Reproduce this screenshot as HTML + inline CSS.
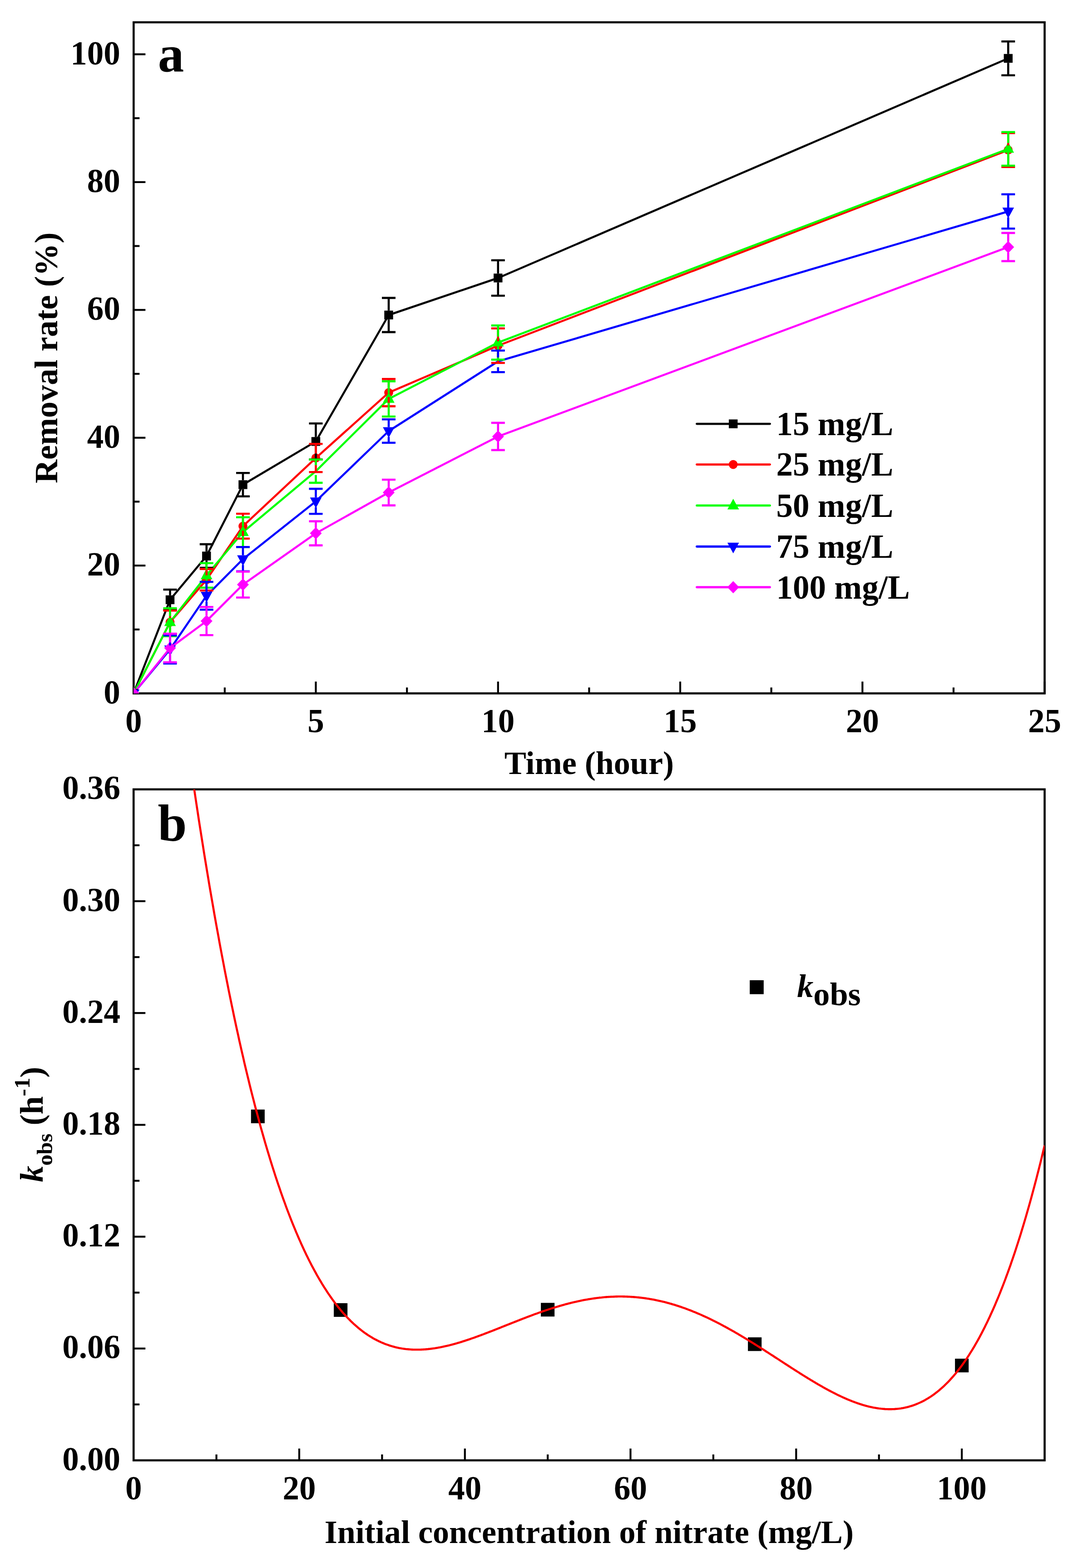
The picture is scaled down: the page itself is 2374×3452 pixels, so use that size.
<!DOCTYPE html>
<html><head><meta charset="utf-8"><title>Figure</title>
<style>html,body{margin:0;padding:0;background:#fff}svg{display:block}</style>
</head><body>
<svg width="2374" height="3452" viewBox="0 0 2374 3452">
<defs>
<clipPath id="ca"><rect x="294.3" y="49.1" width="2006.2" height="1477.4"/></clipPath>
<clipPath id="cb"><rect x="294.2" y="1737.8" width="2006.3" height="1477.2"/></clipPath>
</defs>
<rect width="2374" height="3452" fill="#fff"/>
<g font-family="&quot;Liberation Serif&quot;, serif" font-weight="bold" fill="#000">
<line x1="294.3" y1="1245.1" x2="320.3" y2="1245.1" stroke="#000" stroke-width="4.2"/>
<line x1="294.3" y1="963.7" x2="320.3" y2="963.7" stroke="#000" stroke-width="4.2"/>
<line x1="294.3" y1="682.3" x2="320.3" y2="682.3" stroke="#000" stroke-width="4.2"/>
<line x1="294.3" y1="400.9" x2="320.3" y2="400.9" stroke="#000" stroke-width="4.2"/>
<line x1="294.3" y1="119.5" x2="320.3" y2="119.5" stroke="#000" stroke-width="4.2"/>
<line x1="294.3" y1="1385.8" x2="307.3" y2="1385.8" stroke="#000" stroke-width="4.2"/>
<line x1="294.3" y1="1104.4" x2="307.3" y2="1104.4" stroke="#000" stroke-width="4.2"/>
<line x1="294.3" y1="823.0" x2="307.3" y2="823.0" stroke="#000" stroke-width="4.2"/>
<line x1="294.3" y1="541.6" x2="307.3" y2="541.6" stroke="#000" stroke-width="4.2"/>
<line x1="294.3" y1="260.2" x2="307.3" y2="260.2" stroke="#000" stroke-width="4.2"/>
<line x1="695.5" y1="1526.5" x2="695.5" y2="1500.5" stroke="#000" stroke-width="4.2"/>
<line x1="1096.8" y1="1526.5" x2="1096.8" y2="1500.5" stroke="#000" stroke-width="4.2"/>
<line x1="1498.0" y1="1526.5" x2="1498.0" y2="1500.5" stroke="#000" stroke-width="4.2"/>
<line x1="1899.3" y1="1526.5" x2="1899.3" y2="1500.5" stroke="#000" stroke-width="4.2"/>
<line x1="2300.5" y1="1526.5" x2="2300.5" y2="1500.5" stroke="#000" stroke-width="4.2"/>
<line x1="494.9" y1="1526.5" x2="494.9" y2="1513.5" stroke="#000" stroke-width="4.2"/>
<line x1="896.2" y1="1526.5" x2="896.2" y2="1513.5" stroke="#000" stroke-width="4.2"/>
<line x1="1297.4" y1="1526.5" x2="1297.4" y2="1513.5" stroke="#000" stroke-width="4.2"/>
<line x1="1698.6" y1="1526.5" x2="1698.6" y2="1513.5" stroke="#000" stroke-width="4.2"/>
<line x1="2099.9" y1="1526.5" x2="2099.9" y2="1513.5" stroke="#000" stroke-width="4.2"/>
<rect x="294.3" y="49.1" width="2006.2" height="1477.4" fill="none" stroke="#000" stroke-width="4.6"/>
<text x="264.8" y="1548.5" font-size="73" text-anchor="end">0</text>
<text x="264.8" y="1267.1" font-size="73" text-anchor="end">20</text>
<text x="264.8" y="985.7" font-size="73" text-anchor="end">40</text>
<text x="264.8" y="704.3" font-size="73" text-anchor="end">60</text>
<text x="264.8" y="422.9" font-size="73" text-anchor="end">80</text>
<text x="264.8" y="141.5" font-size="73" text-anchor="end">100</text>
<text x="294.3" y="1611.5" font-size="73" text-anchor="middle">0</text>
<text x="695.5" y="1611.5" font-size="73" text-anchor="middle">5</text>
<text x="1096.8" y="1611.5" font-size="73" text-anchor="middle">10</text>
<text x="1498.0" y="1611.5" font-size="73" text-anchor="middle">15</text>
<text x="1899.3" y="1611.5" font-size="73" text-anchor="middle">20</text>
<text x="2300.5" y="1611.5" font-size="73" text-anchor="middle">25</text>
<text x="1297.4" y="1704.3" font-size="72.1" text-anchor="middle">Time (hour)</text>
<text transform="translate(125.8 787.8) rotate(-90)" font-size="72.1" text-anchor="middle">Removal rate (%)</text>
<text x="347.8" y="156.6" font-size="115">a</text>
<g clip-path="url(#ca)">
<polyline points="294.3,1526.5 374.5,1320.4 454.8,1224.1 535.0,1067.0 695.5,971.9 856.0,693.5 1096.8,612.0 2220.3,128.5" fill="none" stroke="#000000" stroke-width="4.5" stroke-linejoin="round" stroke-linecap="round"/>
<polyline points="294.3,1526.5 374.5,1369.7 454.8,1276.3 535.0,1158.4 695.5,1008.3 856.0,864.4 1096.8,761.0 2220.3,330.3" fill="none" stroke="#ff0000" stroke-width="4.5" stroke-linejoin="round" stroke-linecap="round"/>
<polyline points="294.3,1526.5 374.5,1369.7 454.8,1266.8 535.0,1171.5 695.5,1037.3 856.0,878.2 1096.8,754.1 2220.3,327.8" fill="none" stroke="#00ff00" stroke-width="4.5" stroke-linejoin="round" stroke-linecap="round"/>
<polyline points="294.3,1526.5 374.5,1429.6 454.8,1311.6 535.0,1231.0 695.5,1103.7 856.0,949.0 1096.8,795.5 2220.3,465.5" fill="none" stroke="#0000ff" stroke-width="4.5" stroke-linejoin="round" stroke-linecap="round"/>
<polyline points="294.3,1526.5 374.5,1426.6 454.8,1367.2 535.0,1287.0 695.5,1174.1 856.0,1084.3 1096.8,960.9 2220.3,543.9" fill="none" stroke="#ff00ff" stroke-width="4.5" stroke-linejoin="round" stroke-linecap="round"/>
<rect x="284.6" y="1516.8" width="19.4" height="19.4" fill="#000000"/>
<rect x="364.8" y="1310.7" width="19.4" height="19.4" fill="#000000"/>
<rect x="445.1" y="1214.4" width="19.4" height="19.4" fill="#000000"/>
<rect x="525.3" y="1057.3" width="19.4" height="19.4" fill="#000000"/>
<rect x="685.8" y="962.2" width="19.4" height="19.4" fill="#000000"/>
<rect x="846.3" y="683.8" width="19.4" height="19.4" fill="#000000"/>
<rect x="1087.1" y="602.3" width="19.4" height="19.4" fill="#000000"/>
<rect x="2210.6" y="118.8" width="19.4" height="19.4" fill="#000000"/>
<circle cx="294.3" cy="1526.5" r="9.8" fill="#ff0000"/>
<circle cx="374.5" cy="1369.7" r="9.8" fill="#ff0000"/>
<circle cx="454.8" cy="1276.3" r="9.8" fill="#ff0000"/>
<circle cx="535.0" cy="1158.4" r="9.8" fill="#ff0000"/>
<circle cx="695.5" cy="1008.3" r="9.8" fill="#ff0000"/>
<circle cx="856.0" cy="864.4" r="9.8" fill="#ff0000"/>
<circle cx="1096.8" cy="761.0" r="9.8" fill="#ff0000"/>
<circle cx="2220.3" cy="330.3" r="9.8" fill="#ff0000"/>
<polygon points="294.3,1511.5 307.1,1535.0 281.5,1535.0" fill="#00ff00"/>
<polygon points="374.5,1354.7 387.3,1378.2 361.7,1378.2" fill="#00ff00"/>
<polygon points="454.8,1251.8 467.6,1275.3 442.0,1275.3" fill="#00ff00"/>
<polygon points="535.0,1156.5 547.8,1180.0 522.2,1180.0" fill="#00ff00"/>
<polygon points="856.0,863.2 868.8,886.7 843.2,886.7" fill="#00ff00"/>
<polygon points="1096.8,739.1 1109.6,762.6 1084.0,762.6" fill="#00ff00"/>
<polygon points="2220.3,312.8 2233.1,336.3 2207.5,336.3" fill="#00ff00"/>
<polygon points="281.5,1518.0 307.1,1518.0 294.3,1541.5" fill="#0000ff"/>
<polygon points="361.7,1421.1 387.3,1421.1 374.5,1444.6" fill="#0000ff"/>
<polygon points="442.0,1303.1 467.6,1303.1 454.8,1326.6" fill="#0000ff"/>
<polygon points="522.2,1222.5 547.8,1222.5 535.0,1246.0" fill="#0000ff"/>
<polygon points="682.7,1095.2 708.3,1095.2 695.5,1118.7" fill="#0000ff"/>
<polygon points="843.2,940.5 868.8,940.5 856.0,964.0" fill="#0000ff"/>
<polygon points="2207.5,457.0 2233.1,457.0 2220.3,480.5" fill="#0000ff"/>
<polygon points="294.3,1513.0 307.3,1526.5 294.3,1540.0 281.3,1526.5" fill="#ff00ff"/>
<polygon points="374.5,1413.1 387.5,1426.6 374.5,1440.1 361.5,1426.6" fill="#ff00ff"/>
<polygon points="454.8,1353.7 467.8,1367.2 454.8,1380.7 441.8,1367.2" fill="#ff00ff"/>
<polygon points="535.0,1273.5 548.0,1287.0 535.0,1300.5 522.0,1287.0" fill="#ff00ff"/>
<polygon points="695.5,1160.6 708.5,1174.1 695.5,1187.6 682.5,1174.1" fill="#ff00ff"/>
<polygon points="856.0,1070.8 869.0,1084.3 856.0,1097.8 843.0,1084.3" fill="#ff00ff"/>
<polygon points="1096.8,947.4 1109.8,960.9 1096.8,974.4 1083.8,960.9" fill="#ff00ff"/>
<polygon points="2220.3,530.4 2233.3,543.9 2220.3,557.4 2207.3,543.9" fill="#ff00ff"/>
<path d="M374.5 1298.0V1310.7M374.5 1330.1V1342.8M359.5 1298.0H389.5M359.5 1342.8H389.5" stroke="#000000" stroke-width="4.6" fill="none"/>
<path d="M454.8 1198.1V1214.4M454.8 1233.8V1250.1M439.8 1198.1H469.8M439.8 1250.1H469.8" stroke="#000000" stroke-width="4.6" fill="none"/>
<path d="M535.0 1041.3V1057.3M535.0 1076.7V1092.7M520.0 1041.3H550.0M520.0 1092.7H550.0" stroke="#000000" stroke-width="4.6" fill="none"/>
<path d="M695.5 932.2V962.2M695.5 981.6V1011.6M680.5 932.2H710.5M680.5 1011.6H710.5" stroke="#000000" stroke-width="4.6" fill="none"/>
<path d="M856.0 655.9V683.8M856.0 703.2V731.1M841.0 655.9H871.0M841.0 731.1H871.0" stroke="#000000" stroke-width="4.6" fill="none"/>
<path d="M1096.8 573.0V602.3M1096.8 621.7V651.0M1081.8 573.0H1111.8M1081.8 651.0H1111.8" stroke="#000000" stroke-width="4.6" fill="none"/>
<path d="M2220.3 91.3V118.8M2220.3 138.2V165.7M2205.3 91.3H2235.3M2205.3 165.7H2235.3" stroke="#000000" stroke-width="4.6" fill="none"/>
<path d="M374.5 1344.2V1359.9M374.5 1379.5V1395.2M359.5 1344.2H389.5M359.5 1395.2H389.5" stroke="#ff0000" stroke-width="4.6" fill="none"/>
<path d="M454.8 1252.6V1266.5M454.8 1286.1V1300.0M439.8 1252.6H469.8M439.8 1300.0H469.8" stroke="#ff0000" stroke-width="4.6" fill="none"/>
<path d="M535.0 1131.0V1148.6M535.0 1168.2V1185.8M520.0 1131.0H550.0M520.0 1185.8H550.0" stroke="#ff0000" stroke-width="4.6" fill="none"/>
<path d="M695.5 977.3V998.5M695.5 1018.1V1039.3M680.5 977.3H710.5M680.5 1039.3H710.5" stroke="#ff0000" stroke-width="4.6" fill="none"/>
<path d="M856.0 834.4V854.6M856.0 874.2V894.4M841.0 834.4H871.0M841.0 894.4H871.0" stroke="#ff0000" stroke-width="4.6" fill="none"/>
<path d="M1096.8 723.0V751.2M1096.8 770.8V799.0M1081.8 723.0H1111.8M1081.8 799.0H1111.8" stroke="#ff0000" stroke-width="4.6" fill="none"/>
<path d="M2220.3 293.0V320.5M2220.3 340.1V367.6M2205.3 293.0H2235.3M2205.3 367.6H2235.3" stroke="#ff0000" stroke-width="4.6" fill="none"/>
<path d="M374.5 1339.0V1356.7M374.5 1378.2V1400.4M359.5 1339.0H389.5M359.5 1400.4H389.5" stroke="#00ff00" stroke-width="4.6" fill="none"/>
<path d="M454.8 1239.8V1253.8M454.8 1275.3V1293.8M439.8 1239.8H469.8M439.8 1293.8H469.8" stroke="#00ff00" stroke-width="4.6" fill="none"/>
<path d="M535.0 1138.8V1158.5M535.0 1180.0V1204.2M520.0 1138.8H550.0M520.0 1204.2H550.0" stroke="#00ff00" stroke-width="4.6" fill="none"/>
<path d="M695.5 1011.7V1024.3M695.5 1045.8V1062.9M680.5 1011.7H710.5M680.5 1062.9H710.5" stroke="#00ff00" stroke-width="4.6" fill="none"/>
<path d="M856.0 839.4V865.2M856.0 886.7V917.0M841.0 839.4H871.0M841.0 917.0H871.0" stroke="#00ff00" stroke-width="4.6" fill="none"/>
<path d="M1096.8 716.5V741.1M1096.8 762.6V791.7M1081.8 716.5H1111.8M1081.8 791.7H1111.8" stroke="#00ff00" stroke-width="4.6" fill="none"/>
<path d="M2220.3 290.8V314.8M2220.3 336.3V364.8M2205.3 290.8H2235.3M2205.3 364.8H2235.3" stroke="#00ff00" stroke-width="4.6" fill="none"/>
<path d="M374.5 1398.6V1421.1M374.5 1442.6V1460.6M359.5 1398.6H389.5M359.5 1460.6H389.5" stroke="#0000ff" stroke-width="4.6" fill="none"/>
<path d="M454.8 1281.0V1303.1M454.8 1324.6V1342.2M439.8 1281.0H469.8M439.8 1342.2H469.8" stroke="#0000ff" stroke-width="4.6" fill="none"/>
<path d="M535.0 1204.3V1222.5M535.0 1244.0V1257.7M520.0 1204.3H550.0M520.0 1257.7H550.0" stroke="#0000ff" stroke-width="4.6" fill="none"/>
<path d="M695.5 1076.1V1095.2M695.5 1116.7V1131.3M680.5 1076.1H710.5M680.5 1131.3H710.5" stroke="#0000ff" stroke-width="4.6" fill="none"/>
<path d="M856.0 923.2V940.5M856.0 962.0V974.8M841.0 923.2H871.0M841.0 974.8H871.0" stroke="#0000ff" stroke-width="4.6" fill="none"/>
<path d="M1096.8 771.7V787.0M1096.8 808.5V819.3M1081.8 771.7H1111.8M1081.8 819.3H1111.8" stroke="#0000ff" stroke-width="4.6" fill="none"/>
<path d="M2220.3 427.8V457.0M2220.3 478.5V503.2M2205.3 427.8H2235.3M2205.3 503.2H2235.3" stroke="#0000ff" stroke-width="4.6" fill="none"/>
<path d="M374.5 1395.1V1414.6M374.5 1438.6V1458.1M359.5 1395.1H389.5M359.5 1458.1H389.5" stroke="#ff00ff" stroke-width="4.6" fill="none"/>
<path d="M454.8 1336.2V1355.2M454.8 1379.2V1398.2M439.8 1336.2H469.8M439.8 1398.2H469.8" stroke="#ff00ff" stroke-width="4.6" fill="none"/>
<path d="M535.0 1258.5V1275.0M535.0 1299.0V1315.5M520.0 1258.5H550.0M520.0 1315.5H550.0" stroke="#ff00ff" stroke-width="4.6" fill="none"/>
<path d="M695.5 1147.6V1162.1M695.5 1186.1V1200.6M680.5 1147.6H710.5M680.5 1200.6H710.5" stroke="#ff00ff" stroke-width="4.6" fill="none"/>
<path d="M856.0 1056.0V1072.3M856.0 1096.3V1112.6M841.0 1056.0H871.0M841.0 1112.6H871.0" stroke="#ff00ff" stroke-width="4.6" fill="none"/>
<path d="M1096.8 930.9V948.9M1096.8 972.9V990.9M1081.8 930.9H1111.8M1081.8 990.9H1111.8" stroke="#ff00ff" stroke-width="4.6" fill="none"/>
<path d="M2220.3 512.9V531.9M2220.3 555.9V574.9M2205.3 512.9H2235.3M2205.3 574.9H2235.3" stroke="#ff00ff" stroke-width="4.6" fill="none"/>
</g>
<line x1="1534.5" y1="933.1" x2="1695.5" y2="933.1" stroke="#000000" stroke-width="4.9" stroke-linecap="round"/>
<rect x="1605.0" y="923.4" width="19.4" height="19.4" fill="#000000"/>
<text x="1709.6" y="957.9" font-size="73">15 mg/L</text>
<line x1="1534.5" y1="1022.6" x2="1695.5" y2="1022.6" stroke="#ff0000" stroke-width="4.9" stroke-linecap="round"/>
<circle cx="1614.7" cy="1022.6" r="9.8" fill="#ff0000"/>
<text x="1709.6" y="1047.4" font-size="73">25 mg/L</text>
<line x1="1534.5" y1="1112.9" x2="1695.5" y2="1112.9" stroke="#00ff00" stroke-width="4.9" stroke-linecap="round"/>
<polygon points="1614.7,1097.9 1627.5,1121.4 1601.9,1121.4" fill="#00ff00"/>
<text x="1709.6" y="1137.7" font-size="73">50 mg/L</text>
<line x1="1534.5" y1="1203.2" x2="1695.5" y2="1203.2" stroke="#0000ff" stroke-width="4.9" stroke-linecap="round"/>
<polygon points="1601.9,1194.7 1627.5,1194.7 1614.7,1218.2" fill="#0000ff"/>
<text x="1709.6" y="1228.0" font-size="73">75 mg/L</text>
<line x1="1534.5" y1="1292.8" x2="1695.5" y2="1292.8" stroke="#ff00ff" stroke-width="4.9" stroke-linecap="round"/>
<polygon points="1614.7,1279.3 1627.7,1292.8 1614.7,1306.3 1601.7,1292.8" fill="#ff00ff"/>
<text x="1709.6" y="1317.6" font-size="73">100 mg/L</text>
<line x1="294.2" y1="2968.8" x2="320.2" y2="2968.8" stroke="#000" stroke-width="4.2"/>
<line x1="294.2" y1="2722.6" x2="320.2" y2="2722.6" stroke="#000" stroke-width="4.2"/>
<line x1="294.2" y1="2476.4" x2="320.2" y2="2476.4" stroke="#000" stroke-width="4.2"/>
<line x1="294.2" y1="2230.2" x2="320.2" y2="2230.2" stroke="#000" stroke-width="4.2"/>
<line x1="294.2" y1="1984.0" x2="320.2" y2="1984.0" stroke="#000" stroke-width="4.2"/>
<line x1="294.2" y1="3091.9" x2="307.2" y2="3091.9" stroke="#000" stroke-width="4.2"/>
<line x1="294.2" y1="2845.7" x2="307.2" y2="2845.7" stroke="#000" stroke-width="4.2"/>
<line x1="294.2" y1="2599.5" x2="307.2" y2="2599.5" stroke="#000" stroke-width="4.2"/>
<line x1="294.2" y1="2353.3" x2="307.2" y2="2353.3" stroke="#000" stroke-width="4.2"/>
<line x1="294.2" y1="2107.1" x2="307.2" y2="2107.1" stroke="#000" stroke-width="4.2"/>
<line x1="294.2" y1="1860.9" x2="307.2" y2="1860.9" stroke="#000" stroke-width="4.2"/>
<line x1="659.0" y1="3215.0" x2="659.0" y2="3189.0" stroke="#000" stroke-width="4.2"/>
<line x1="1023.8" y1="3215.0" x2="1023.8" y2="3189.0" stroke="#000" stroke-width="4.2"/>
<line x1="1388.5" y1="3215.0" x2="1388.5" y2="3189.0" stroke="#000" stroke-width="4.2"/>
<line x1="1753.3" y1="3215.0" x2="1753.3" y2="3189.0" stroke="#000" stroke-width="4.2"/>
<line x1="2118.1" y1="3215.0" x2="2118.1" y2="3189.0" stroke="#000" stroke-width="4.2"/>
<line x1="476.6" y1="3215.0" x2="476.6" y2="3202.0" stroke="#000" stroke-width="4.2"/>
<line x1="841.4" y1="3215.0" x2="841.4" y2="3202.0" stroke="#000" stroke-width="4.2"/>
<line x1="1206.2" y1="3215.0" x2="1206.2" y2="3202.0" stroke="#000" stroke-width="4.2"/>
<line x1="1570.9" y1="3215.0" x2="1570.9" y2="3202.0" stroke="#000" stroke-width="4.2"/>
<line x1="1935.7" y1="3215.0" x2="1935.7" y2="3202.0" stroke="#000" stroke-width="4.2"/>
<rect x="294.2" y="1737.8" width="2006.3" height="1477.2" fill="none" stroke="#000" stroke-width="4.6"/>
<text x="265" y="3236.5" font-size="73" text-anchor="end">0.00</text>
<text x="265" y="2990.3" font-size="73" text-anchor="end">0.06</text>
<text x="265" y="2744.1" font-size="73" text-anchor="end">0.12</text>
<text x="265" y="2497.9" font-size="73" text-anchor="end">0.18</text>
<text x="265" y="2251.7" font-size="73" text-anchor="end">0.24</text>
<text x="265" y="2005.5" font-size="73" text-anchor="end">0.30</text>
<text x="265" y="1759.3" font-size="73" text-anchor="end">0.36</text>
<text x="294.2" y="3300.5" font-size="73" text-anchor="middle">0</text>
<text x="659.0" y="3300.5" font-size="73" text-anchor="middle">20</text>
<text x="1023.8" y="3300.5" font-size="73" text-anchor="middle">40</text>
<text x="1388.5" y="3300.5" font-size="73" text-anchor="middle">60</text>
<text x="1753.3" y="3300.5" font-size="73" text-anchor="middle">80</text>
<text x="2118.1" y="3300.5" font-size="73" text-anchor="middle">100</text>
<text x="1297.3" y="3396.8" font-size="72.1" text-anchor="middle">Initial concentration of nitrate (mg/L)</text>
<text transform="translate(94.4 2602.4) rotate(-90)" font-size="72.1"><tspan font-style="italic">k</tspan><tspan font-size="49" dy="21">obs</tspan><tspan dy="-21"> (h</tspan><tspan font-size="49" dy="-29">-1</tspan><tspan dy="29">)</tspan></text>
<text x="347.6" y="1851.3" font-size="115">b</text>
<g clip-path="url(#cb)">
<rect x="552.8" y="2442.7" width="30.1" height="30.1" fill="#000"/>
<rect x="735.1" y="2869.0" width="30.1" height="30.1" fill="#000"/>
<rect x="1191.1" y="2868.3" width="30.1" height="30.1" fill="#000"/>
<rect x="1647.1" y="2944.2" width="30.1" height="30.1" fill="#000"/>
<rect x="2103.1" y="2991.2" width="30.1" height="30.1" fill="#000"/>
<polyline points="310.2,755.1 312.4,778.1 314.7,800.9 317.0,823.5 319.3,846.0 321.6,868.3 323.8,890.5 326.1,912.5 328.4,934.3 330.7,956.0 333.0,977.5 335.2,998.8 337.5,1020.0 339.8,1041.0 342.1,1061.9 344.4,1082.6 346.6,1103.1 348.9,1123.5 351.2,1143.7 353.5,1163.8 355.8,1183.8 358.0,1203.5 360.3,1223.1 362.6,1242.6 364.9,1261.9 367.2,1281.1 369.4,1300.1 371.7,1319.0 374.0,1337.7 376.3,1356.3 378.6,1374.7 380.8,1393.0 383.1,1411.1 385.4,1429.1 387.7,1446.9 390.0,1464.6 392.2,1482.2 394.5,1499.6 396.8,1516.9 399.1,1534.0 401.4,1551.0 403.6,1567.9 405.9,1584.6 408.2,1601.2 410.5,1617.6 412.8,1633.9 415.0,1650.1 417.3,1666.1 419.6,1682.0 421.9,1697.8 424.2,1713.4 426.4,1728.9 428.7,1744.2 431.0,1759.5 433.3,1774.6 435.6,1789.6 437.8,1804.4 440.1,1819.1 442.4,1833.7 444.7,1848.2 447.0,1862.5 449.2,1876.7 451.5,1890.8 453.8,1904.7 456.1,1918.6 458.4,1932.3 460.6,1945.9 462.9,1959.3 465.2,1972.7 467.5,1985.9 469.8,1999.0 472.0,2012.0 474.3,2024.9 476.6,2037.6 478.9,2050.2 481.2,2062.7 483.4,2075.1 485.7,2087.4 488.0,2099.6 490.3,2111.6 492.6,2123.6 494.8,2135.4 497.1,2147.1 499.4,2158.7 501.7,2170.2 503.9,2181.6 506.2,2192.8 508.5,2204.0 510.8,2215.1 513.1,2226.0 515.3,2236.8 517.6,2247.6 519.9,2258.2 522.2,2268.7 524.5,2279.1 526.7,2289.4 529.0,2299.6 531.3,2309.7 533.6,2319.7 535.9,2329.6 538.1,2339.4 540.4,2349.1 542.7,2358.7 545.0,2368.2 547.3,2377.6 549.5,2386.9 551.8,2396.1 554.1,2405.2 556.4,2414.2 558.7,2423.1 560.9,2431.9 563.2,2440.6 565.5,2449.2 567.8,2457.7 570.1,2466.2 572.3,2474.5 574.6,2482.8 576.9,2490.9 579.2,2499.0 581.5,2507.0 583.7,2514.8 586.0,2522.6 588.3,2530.3 590.6,2538.0 592.9,2545.5 595.1,2552.9 597.4,2560.3 599.7,2567.6 602.0,2574.8 604.3,2581.9 606.5,2588.9 608.8,2595.8 611.1,2602.7 613.4,2609.4 615.7,2616.1 617.9,2622.7 620.2,2629.2 622.5,2635.7 624.8,2642.1 627.1,2648.3 629.3,2654.5 631.6,2660.7 633.9,2666.7 636.2,2672.7 638.5,2678.6 640.7,2684.4 643.0,2690.1 645.3,2695.8 647.6,2701.4 649.9,2706.9 652.1,2712.4 654.4,2717.7 656.7,2723.0 659.0,2728.3 661.3,2733.4 663.5,2738.5 665.8,2743.5 668.1,2748.5 670.4,2753.4 672.7,2758.2 674.9,2762.9 677.2,2767.6 679.5,2772.2 681.8,2776.7 684.1,2781.2 686.3,2785.6 688.6,2789.9 690.9,2794.2 693.2,2798.4 695.5,2802.5 697.7,2806.6 700.0,2810.6 702.3,2814.6 704.6,2818.5 706.9,2822.3 709.1,2826.1 711.4,2829.8 713.7,2833.5 716.0,2837.0 718.3,2840.6 720.5,2844.0 722.8,2847.5 725.1,2850.8 727.4,2854.1 729.7,2857.4 731.9,2860.5 734.2,2863.7 736.5,2866.8 738.8,2869.8 741.1,2872.7 743.3,2875.7 745.6,2878.5 747.9,2881.3 750.2,2884.1 752.5,2886.8 754.7,2889.4 757.0,2892.0 759.3,2894.6 761.6,2897.1 763.9,2899.5 766.1,2901.9 768.4,2904.2 770.7,2906.5 773.0,2908.8 775.3,2911.0 777.5,2913.1 779.8,2915.3 782.1,2917.3 784.4,2919.3 786.7,2921.3 788.9,2923.2 791.2,2925.1 793.5,2926.9 795.8,2928.7 798.1,2930.5 800.3,2932.2 802.6,2933.8 804.9,2935.5 807.2,2937.0 809.5,2938.6 811.7,2940.1 814.0,2941.5 816.3,2942.9 818.6,2944.3 820.9,2945.7 823.1,2947.0 825.4,2948.2 827.7,2949.4 830.0,2950.6 832.3,2951.8 834.5,2952.9 836.8,2953.9 839.1,2955.0 841.4,2956.0 843.7,2956.9 845.9,2957.9 848.2,2958.8 850.5,2959.6 852.8,2960.4 855.1,2961.2 857.3,2962.0 859.6,2962.7 861.9,2963.4 864.2,2964.1 866.5,2964.7 868.7,2965.3 871.0,2965.9 873.3,2966.4 875.6,2966.9 877.9,2967.4 880.1,2967.9 882.4,2968.3 884.7,2968.7 887.0,2969.0 889.3,2969.4 891.5,2969.7 893.8,2970.0 896.1,2970.2 898.4,2970.4 900.6,2970.6 902.9,2970.8 905.2,2971.0 907.5,2971.1 909.8,2971.2 912.0,2971.3 914.3,2971.3 916.6,2971.3 918.9,2971.3 921.2,2971.3 923.4,2971.3 925.7,2971.2 928.0,2971.1 930.3,2971.0 932.6,2970.9 934.8,2970.8 937.1,2970.6 939.4,2970.4 941.7,2970.2 944.0,2969.9 946.2,2969.7 948.5,2969.4 950.8,2969.1 953.1,2968.8 955.4,2968.5 957.6,2968.2 959.9,2967.8 962.2,2967.4 964.5,2967.0 966.8,2966.6 969.0,2966.2 971.3,2965.7 973.6,2965.3 975.9,2964.8 978.2,2964.3 980.4,2963.8 982.7,2963.3 985.0,2962.8 987.3,2962.2 989.6,2961.7 991.8,2961.1 994.1,2960.5 996.4,2959.9 998.7,2959.3 1001.0,2958.7 1003.2,2958.0 1005.5,2957.4 1007.8,2956.7 1010.1,2956.0 1012.4,2955.4 1014.6,2954.7 1016.9,2954.0 1019.2,2953.2 1021.5,2952.5 1023.8,2951.8 1026.0,2951.0 1028.3,2950.3 1030.6,2949.5 1032.9,2948.8 1035.2,2948.0 1037.4,2947.2 1039.7,2946.4 1042.0,2945.6 1044.3,2944.8 1046.6,2944.0 1048.8,2943.2 1051.1,2942.4 1053.4,2941.5 1055.7,2940.7 1058.0,2939.8 1060.2,2939.0 1062.5,2938.1 1064.8,2937.3 1067.1,2936.4 1069.4,2935.5 1071.6,2934.7 1073.9,2933.8 1076.2,2932.9 1078.5,2932.0 1080.8,2931.1 1083.0,2930.3 1085.3,2929.4 1087.6,2928.5 1089.9,2927.6 1092.2,2926.7 1094.4,2925.8 1096.7,2924.9 1099.0,2924.0 1101.3,2923.1 1103.6,2922.2 1105.8,2921.2 1108.1,2920.3 1110.4,2919.4 1112.7,2918.5 1115.0,2917.6 1117.2,2916.7 1119.5,2915.8 1121.8,2914.9 1124.1,2914.0 1126.4,2913.1 1128.6,2912.2 1130.9,2911.3 1133.2,2910.4 1135.5,2909.5 1137.8,2908.6 1140.0,2907.7 1142.3,2906.8 1144.6,2905.9 1146.9,2905.0 1149.2,2904.1 1151.4,2903.2 1153.7,2902.3 1156.0,2901.5 1158.3,2900.6 1160.6,2899.7 1162.8,2898.8 1165.1,2898.0 1167.4,2897.1 1169.7,2896.3 1172.0,2895.4 1174.2,2894.6 1176.5,2893.7 1178.8,2892.9 1181.1,2892.1 1183.4,2891.3 1185.6,2890.4 1187.9,2889.6 1190.2,2888.8 1192.5,2888.0 1194.8,2887.2 1197.0,2886.4 1199.3,2885.7 1201.6,2884.9 1203.9,2884.1 1206.2,2883.4 1208.4,2882.6 1210.7,2881.9 1213.0,2881.1 1215.3,2880.4 1217.6,2879.7 1219.8,2879.0 1222.1,2878.3 1224.4,2877.6 1226.7,2876.9 1229.0,2876.2 1231.2,2875.5 1233.5,2874.8 1235.8,2874.2 1238.1,2873.5 1240.4,2872.9 1242.6,2872.3 1244.9,2871.6 1247.2,2871.0 1249.5,2870.4 1251.8,2869.8 1254.0,2869.3 1256.3,2868.7 1258.6,2868.1 1260.9,2867.6 1263.2,2867.0 1265.4,2866.5 1267.7,2866.0 1270.0,2865.4 1272.3,2864.9 1274.6,2864.4 1276.8,2864.0 1279.1,2863.5 1281.4,2863.0 1283.7,2862.6 1286.0,2862.1 1288.2,2861.7 1290.5,2861.3 1292.8,2860.9 1295.1,2860.5 1297.3,2860.1 1299.6,2859.8 1301.9,2859.4 1304.2,2859.0 1306.5,2858.7 1308.7,2858.4 1311.0,2858.1 1313.3,2857.8 1315.6,2857.5 1317.9,2857.2 1320.1,2856.9 1322.4,2856.7 1324.7,2856.5 1327.0,2856.2 1329.3,2856.0 1331.5,2855.8 1333.8,2855.6 1336.1,2855.4 1338.4,2855.3 1340.7,2855.1 1342.9,2855.0 1345.2,2854.9 1347.5,2854.8 1349.8,2854.7 1352.1,2854.6 1354.3,2854.5 1356.6,2854.4 1358.9,2854.4 1361.2,2854.3 1363.5,2854.3 1365.7,2854.3 1368.0,2854.3 1370.3,2854.3 1372.6,2854.4 1374.9,2854.4 1377.1,2854.5 1379.4,2854.5 1381.7,2854.6 1384.0,2854.7 1386.3,2854.8 1388.5,2855.0 1390.8,2855.1 1393.1,2855.2 1395.4,2855.4 1397.7,2855.6 1399.9,2855.8 1402.2,2856.0 1404.5,2856.2 1406.8,2856.4 1409.1,2856.7 1411.3,2856.9 1413.6,2857.2 1415.9,2857.5 1418.2,2857.8 1420.5,2858.1 1422.7,2858.4 1425.0,2858.8 1427.3,2859.1 1429.6,2859.5 1431.9,2859.9 1434.1,2860.3 1436.4,2860.7 1438.7,2861.1 1441.0,2861.5 1443.3,2862.0 1445.5,2862.5 1447.8,2862.9 1450.1,2863.4 1452.4,2863.9 1454.7,2864.4 1456.9,2865.0 1459.2,2865.5 1461.5,2866.1 1463.8,2866.6 1466.1,2867.2 1468.3,2867.8 1470.6,2868.4 1472.9,2869.0 1475.2,2869.7 1477.5,2870.3 1479.7,2871.0 1482.0,2871.7 1484.3,2872.3 1486.6,2873.0 1488.9,2873.8 1491.1,2874.5 1493.4,2875.2 1495.7,2876.0 1498.0,2876.7 1500.3,2877.5 1502.5,2878.3 1504.8,2879.1 1507.1,2879.9 1509.4,2880.7 1511.7,2881.6 1513.9,2882.4 1516.2,2883.3 1518.5,2884.1 1520.8,2885.0 1523.1,2885.9 1525.3,2886.8 1527.6,2887.8 1529.9,2888.7 1532.2,2889.6 1534.5,2890.6 1536.7,2891.6 1539.0,2892.5 1541.3,2893.5 1543.6,2894.5 1545.9,2895.5 1548.1,2896.6 1550.4,2897.6 1552.7,2898.6 1555.0,2899.7 1557.3,2900.7 1559.5,2901.8 1561.8,2902.9 1564.1,2904.0 1566.4,2905.1 1568.7,2906.2 1570.9,2907.4 1573.2,2908.5 1575.5,2909.6 1577.8,2910.8 1580.1,2912.0 1582.3,2913.1 1584.6,2914.3 1586.9,2915.5 1589.2,2916.7 1591.5,2917.9 1593.7,2919.2 1596.0,2920.4 1598.3,2921.6 1600.6,2922.9 1602.9,2924.1 1605.1,2925.4 1607.4,2926.7 1609.7,2927.9 1612.0,2929.2 1614.3,2930.5 1616.5,2931.8 1618.8,2933.1 1621.1,2934.5 1623.4,2935.8 1625.7,2937.1 1627.9,2938.5 1630.2,2939.8 1632.5,2941.2 1634.8,2942.5 1637.1,2943.9 1639.3,2945.3 1641.6,2946.6 1643.9,2948.0 1646.2,2949.4 1648.5,2950.8 1650.7,2952.2 1653.0,2953.6 1655.3,2955.0 1657.6,2956.4 1659.9,2957.9 1662.1,2959.3 1664.4,2960.7 1666.7,2962.1 1669.0,2963.6 1671.3,2965.0 1673.5,2966.5 1675.8,2967.9 1678.1,2969.4 1680.4,2970.8 1682.7,2972.3 1684.9,2973.7 1687.2,2975.2 1689.5,2976.7 1691.8,2978.1 1694.1,2979.6 1696.3,2981.1 1698.6,2982.6 1700.9,2984.0 1703.2,2985.5 1705.4,2987.0 1707.7,2988.5 1710.0,2990.0 1712.3,2991.4 1714.6,2992.9 1716.8,2994.4 1719.1,2995.9 1721.4,2997.4 1723.7,2998.9 1726.0,3000.3 1728.2,3001.8 1730.5,3003.3 1732.8,3004.8 1735.1,3006.2 1737.4,3007.7 1739.6,3009.2 1741.9,3010.7 1744.2,3012.1 1746.5,3013.6 1748.8,3015.1 1751.0,3016.5 1753.3,3018.0 1755.6,3019.4 1757.9,3020.9 1760.2,3022.3 1762.4,3023.8 1764.7,3025.2 1767.0,3026.6 1769.3,3028.1 1771.6,3029.5 1773.8,3030.9 1776.1,3032.3 1778.4,3033.7 1780.7,3035.1 1783.0,3036.5 1785.2,3037.9 1787.5,3039.3 1789.8,3040.6 1792.1,3042.0 1794.4,3043.3 1796.6,3044.7 1798.9,3046.0 1801.2,3047.4 1803.5,3048.7 1805.8,3050.0 1808.0,3051.3 1810.3,3052.6 1812.6,3053.9 1814.9,3055.2 1817.2,3056.4 1819.4,3057.7 1821.7,3058.9 1824.0,3060.2 1826.3,3061.4 1828.6,3062.6 1830.8,3063.8 1833.1,3065.0 1835.4,3066.1 1837.7,3067.3 1840.0,3068.4 1842.2,3069.6 1844.5,3070.7 1846.8,3071.8 1849.1,3072.9 1851.4,3074.0 1853.6,3075.0 1855.9,3076.1 1858.2,3077.1 1860.5,3078.1 1862.8,3079.1 1865.0,3080.1 1867.3,3081.1 1869.6,3082.0 1871.9,3083.0 1874.2,3083.9 1876.4,3084.8 1878.7,3085.6 1881.0,3086.5 1883.3,3087.4 1885.6,3088.2 1887.8,3089.0 1890.1,3089.8 1892.4,3090.5 1894.7,3091.3 1897.0,3092.0 1899.2,3092.7 1901.5,3093.4 1903.8,3094.0 1906.1,3094.7 1908.4,3095.3 1910.6,3095.9 1912.9,3096.4 1915.2,3097.0 1917.5,3097.5 1919.8,3098.0 1922.0,3098.5 1924.3,3098.9 1926.6,3099.3 1928.9,3099.7 1931.2,3100.1 1933.4,3100.4 1935.7,3100.8 1938.0,3101.0 1940.3,3101.3 1942.6,3101.5 1944.8,3101.8 1947.1,3101.9 1949.4,3102.1 1951.7,3102.2 1954.0,3102.3 1956.2,3102.4 1958.5,3102.4 1960.8,3102.4 1963.1,3102.4 1965.4,3102.3 1967.6,3102.2 1969.9,3102.1 1972.2,3101.9 1974.5,3101.8 1976.8,3101.5 1979.0,3101.3 1981.3,3101.0 1983.6,3100.7 1985.9,3100.3 1988.2,3099.9 1990.4,3099.5 1992.7,3099.0 1995.0,3098.5 1997.3,3098.0 1999.6,3097.4 2001.8,3096.8 2004.1,3096.1 2006.4,3095.5 2008.7,3094.7 2011.0,3094.0 2013.2,3093.2 2015.5,3092.3 2017.8,3091.4 2020.1,3090.5 2022.4,3089.5 2024.6,3088.5 2026.9,3087.5 2029.2,3086.4 2031.5,3085.3 2033.8,3084.1 2036.0,3082.9 2038.3,3081.6 2040.6,3080.3 2042.9,3078.9 2045.2,3077.5 2047.4,3076.1 2049.7,3074.6 2052.0,3073.1 2054.3,3071.5 2056.6,3069.8 2058.8,3068.2 2061.1,3066.4 2063.4,3064.7 2065.7,3062.8 2068.0,3061.0 2070.2,3059.0 2072.5,3057.1 2074.8,3055.0 2077.1,3053.0 2079.4,3050.8 2081.6,3048.6 2083.9,3046.4 2086.2,3044.1 2088.5,3041.8 2090.8,3039.4 2093.0,3036.9 2095.3,3034.4 2097.6,3031.9 2099.9,3029.3 2102.1,3026.6 2104.4,3023.9 2106.7,3021.1 2109.0,3018.2 2111.3,3015.3 2113.5,3012.4 2115.8,3009.3 2118.1,3006.3 2120.4,3003.1 2122.7,2999.9 2124.9,2996.7 2127.2,2993.3 2129.5,2990.0 2131.8,2986.5 2134.1,2983.0 2136.3,2979.4 2138.6,2975.8 2140.9,2972.1 2143.2,2968.3 2145.5,2964.5 2147.7,2960.6 2150.0,2956.6 2152.3,2952.6 2154.6,2948.5 2156.9,2944.3 2159.1,2940.1 2161.4,2935.8 2163.7,2931.4 2166.0,2926.9 2168.3,2922.4 2170.5,2917.8 2172.8,2913.2 2175.1,2908.4 2177.4,2903.6 2179.7,2898.8 2181.9,2893.8 2184.2,2888.8 2186.5,2883.7 2188.8,2878.5 2191.1,2873.3 2193.3,2867.9 2195.6,2862.5 2197.9,2857.1 2200.2,2851.5 2202.5,2845.9 2204.7,2840.2 2207.0,2834.4 2209.3,2828.5 2211.6,2822.5 2213.9,2816.5 2216.1,2810.4 2218.4,2804.2 2220.7,2797.9 2223.0,2791.5 2225.3,2785.1 2227.5,2778.6 2229.8,2771.9 2232.1,2765.2 2234.4,2758.4 2236.7,2751.6 2238.9,2744.6 2241.2,2737.6 2243.5,2730.4 2245.8,2723.2 2248.1,2715.9 2250.3,2708.5 2252.6,2701.0 2254.9,2693.4 2257.2,2685.7 2259.5,2677.9 2261.7,2670.1 2264.0,2662.1 2266.3,2654.1 2268.6,2645.9 2270.9,2637.7 2273.1,2629.3 2275.4,2620.9 2277.7,2612.4 2280.0,2603.7 2282.3,2595.0 2284.5,2586.2 2286.8,2577.3 2289.1,2568.2 2291.4,2559.1 2293.7,2549.9 2295.9,2540.6 2298.2,2531.1 2300.5,2521.6" fill="none" stroke="#ff0000" stroke-width="4.6" stroke-linejoin="round"/>
</g>
<rect x="1651.1" y="2158.0" width="30.7" height="30.7" fill="#000"/>
<text x="1755.3" y="2195.2" font-size="72.1"><tspan font-style="italic">k</tspan><tspan dy="18">obs</tspan></text>
</g>
</svg>
</body></html>
